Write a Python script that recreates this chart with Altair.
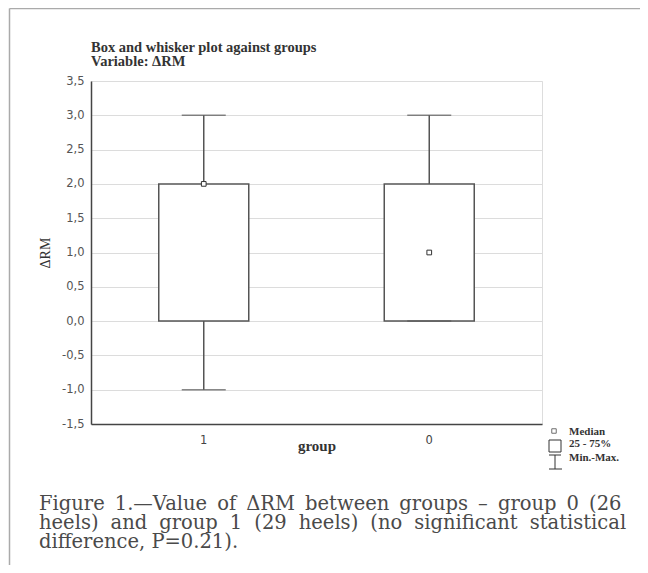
import altair as alt
import pandas as pd

# ---- data ----
groups = ["1", "0"]
minimum = [-1.0, 0.0]
q1 = [0.0, 0.0]
median = [2.0, 1.0]
q3 = [2.0, 2.0]
maximum = [3.0, 3.0]

title_lines = ["Box and whisker plot against groups", "Variable: \u0394RM"]
legend_labels = ["Median", "25 - 75%", "Min.-Max."]
TS = "\u2009"          # thin space, used to imitate the justified caption
HS = "\u200a"          # hair space
caption_lines = [
    f"Figure{TS} 1.\u2014Value{TS} of{TS}  \u0394RM{TS} between{TS} groups{TS} \u2013{TS} group{TS} 0{TS} (26",
    f"heels){TS}{HS} and{TS}{HS} group{TS}{HS} 1{TS}{HS} (29{TS}{HS} heels){TS}{HS} (no{TS}{HS} significant{TS}{HS} statistical",
    "difference, P=0.21).",
]

df = pd.DataFrame({
    "group": groups, "min": minimum, "q1": q1,
    "median": median, "q3": q3, "max": maximum,
})

W, H = 451, 343
LINE = "#555555"

x_enc = alt.X(
    "group:N", sort=groups,
    scale=alt.Scale(paddingInner=0, paddingOuter=0),
    axis=alt.Axis(
        title="group", titleFont="Liberation Serif", titleFontSize=15,
        titleFontWeight="bold", titleColor="#333333",
        titleY=26, titleBaseline="alphabetic",
        labelFont="DejaVu Sans", labelFontSize=11.5, labelColor="#444444",
        labelAngle=0, labelPadding=10, ticks=False,
        domainColor="#444444", domainWidth=1.5, grid=False,
    ),
)

y_scale = alt.Scale(domain=[-1.5, 3.5], nice=False, zero=False)
y_axis = alt.Axis(
    title="\u0394RM", titleFont="Liberation Serif", titleFontSize=14,
    titleFontWeight="normal", titleColor="#333333", titlePadding=9,
    tickCount=10, format=".1f", labelOverlap=False,
    labelFont="DejaVu Sans", labelFontSize=11.5, labelColor="#555555",
    labelPadding=7, ticks=False,
    domainColor="#444444", domainWidth=1.5,
    grid=True, gridColor="#dcdcdc", gridWidth=1,
)

base = alt.Chart(df)

whisk_hi = base.mark_rule(color=LINE, strokeWidth=1.5).encode(
    x=x_enc,
    y=alt.Y("q3:Q", scale=y_scale, axis=y_axis),
    y2="max:Q",
)
whisk_lo = base.mark_rule(color=LINE, strokeWidth=1.5).encode(
    x=alt.X("group:N", sort=groups), y="min:Q", y2="q1:Q",
)
box = base.mark_bar(size=90, fill="white", stroke=LINE, strokeWidth=1.5).encode(
    x=alt.X("group:N", sort=groups), y="q1:Q", y2="q3:Q",
)
cap_hi = base.mark_tick(size=44, thickness=1.5, color=LINE, orient="horizontal").encode(
    x=alt.X("group:N", sort=groups), y="max:Q",
)
cap_lo = base.mark_tick(size=44, thickness=1.5, color=LINE, orient="horizontal").encode(
    x=alt.X("group:N", sort=groups), y="min:Q",
)
med = base.mark_square(size=22, fill="white", stroke="#333333", strokeWidth=1, opacity=1).encode(
    x=alt.X("group:N", sort=groups), y="median:Q",
)

one = pd.DataFrame({"k": [0]})

# ---- title (drawn as text) ----
title_texts = [
    alt.Chart(one).mark_text(
        text=t, align="left", baseline="alphabetic", font="Liberation Serif",
        fontSize=14.5, fontWeight="bold", color="#333333",
    ).encode(x=alt.value(0), y=alt.value(yy))
    for t, yy in zip(title_lines, [-29, -15])
]

# ---- legend (drawn) ----
leg_med = alt.Chart(one).mark_square(size=20, fill="white", stroke="#333333", strokeWidth=1).encode(
    x=alt.value(463), y=alt.value(350))
leg_box = alt.Chart(one).mark_rect(fill="white", stroke="#333333", strokeWidth=1).encode(
    x=alt.value(458), x2=alt.value(470), y=alt.value(359), y2=alt.value(371))
leg_wv = alt.Chart(one).mark_rule(color="#333333", strokeWidth=1).encode(
    x=alt.value(464), y=alt.value(374), y2=alt.value(388))
leg_wt = alt.Chart(one).mark_rule(color="#333333", strokeWidth=1).encode(
    x=alt.value(458), x2=alt.value(470), y=alt.value(374))
leg_wb = alt.Chart(one).mark_rule(color="#333333", strokeWidth=1).encode(
    x=alt.value(458), x2=alt.value(471), y=alt.value(388))
leg_texts = [
    alt.Chart(one).mark_text(
        text=t, align="left", baseline="middle", font="Liberation Serif",
        fontSize=11, fontWeight="bold", color="#333333",
    ).encode(x=alt.value(478), y=alt.value(yy))
    for t, yy in zip(legend_labels, [351, 363, 377])
]

# ---- caption ----
cap_texts = [
    alt.Chart(one).mark_text(
        text=t, align="left", baseline="alphabetic", font="DejaVu Serif",
        fontSize=19.5, color="#4a4a4a",
    ).encode(x=alt.value(-52), y=alt.value(yy))
    for t, yy in zip(caption_lines, [429, 448, 467])
]

# ---- outer frame ----
frame_left = alt.Chart(one).mark_rule(color="#aaaaaa", strokeWidth=1.5).encode(
    x=alt.value(-81.5), y=alt.value(-72.5), y2=alt.value(500))
frame_top = alt.Chart(one).mark_rule(color="#aaaaaa", strokeWidth=1.5).encode(
    x=alt.value(-81.5), x2=alt.value(560), y=alt.value(-72.5))

chart = alt.layer(
    whisk_hi, whisk_lo, box, cap_hi, cap_lo, med,
    *title_texts,
    leg_med, leg_box, leg_wv, leg_wt, leg_wb, *leg_texts, *cap_texts,
    frame_left, frame_top,
).properties(
    width=W, height=H,
    autosize=alt.AutoSizeParams(type="none"),
    padding={"left": 83, "top": 73, "right": 98, "bottom": 141},
).configure_view(
    stroke="#444444", strokeWidth=1.5,
).configure(background="white")

chart.save("out.html", embed_options={
    "renderer": "svg", "actions": False,
    "formatLocale": {
        "decimal": ",", "thousands": ".", "grouping": [3],
        "currency": ["", ""], "minus": "-",
    },
})
